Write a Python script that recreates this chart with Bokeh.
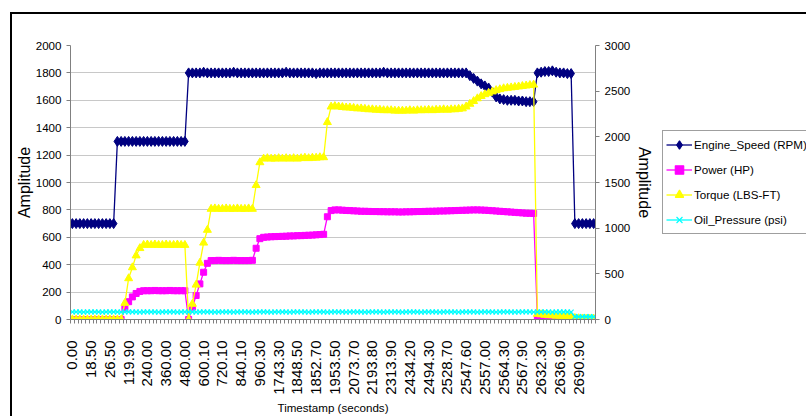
import math
from bokeh.plotting import figure
from bokeh.layouts import row
from bokeh.models import Range1d, LinearAxis, FixedTicker, SingleIntervalTicker, Legend
from bokeh.embed import file_html
from bokeh.resources import INLINE

# ---------------- data ----------------
tick_labels = ["0.00", "18.50", "26.50", "119.90", "240.00", "360.00", "480.00",
               "600.10", "720.10", "840.10", "960.30", "1743.30", "1848.50", "1852.70",
               "1953.50", "2073.70", "2193.80", "2313.90", "2434.20", "2494.30",
               "2528.70", "2547.60", "2557.00", "2564.30", "2567.90", "2632.30",
               "2636.90", "2690.90"]
label_every = 5

engine_speed = [
    700, 700, 700, 700, 700, 700, 700, 700, 700, 700, 700, 700,
    1300, 1300, 1300, 1300, 1300, 1300, 1300, 1300, 1300, 1300,
    1300, 1300, 1300, 1300, 1300, 1300, 1300, 1300, 1300,
    1800, 1800, 1800, 1800, 1805, 1800, 1800, 1800, 1800, 1800,
    1800, 1800, 1805, 1800, 1800, 1800, 1800, 1800, 1800, 1800,
    1800, 1800, 1800, 1800, 1800, 1800, 1805, 1800, 1800, 1800,
    1800, 1800, 1800, 1800, 1795, 1800, 1800, 1800, 1800, 1800,
    1800, 1800, 1800, 1800, 1800, 1800, 1800, 1800, 1800, 1800,
    1800, 1800, 1805, 1800, 1800, 1800, 1800, 1800, 1800, 1800,
    1800, 1800, 1800, 1800, 1800, 1800, 1800, 1800, 1800, 1800,
    1800, 1800, 1800, 1800, 1800,
    1780, 1760, 1740, 1720, 1705, 1690, 1660, 1625, 1610, 1605,
    1600, 1600, 1600, 1595, 1595, 1590, 1590, 1590,
    1800, 1805, 1810, 1810, 1815, 1805, 1800, 1800, 1795, 1795,
    700, 700, 700, 700, 700, 700,
]

power = [
    0, 0, 0, 0, 0, 0, 0, 0, 0, 0, 0, 0, 0, 0,
    80, 130, 165, 190, 205,
    210, 210, 210, 212, 210, 210, 210, 212, 210, 210, 210, 210,
    0,
    90, 175, 260, 345, 410,
    430, 430, 432, 430, 430, 430, 432, 430, 430, 430, 430, 432,
    520, 590,
    600, 602, 604, 605, 606, 607, 608, 610, 610, 612, 612, 614, 615, 616, 618, 620, 622,
    750,
    795, 800, 800, 798, 796, 795, 793, 792, 790, 790,
    789, 788, 788, 787, 787, 786, 786, 786, 785, 785,
    786, 786, 787, 788, 788, 789, 790, 790, 791, 792,
    792, 793, 794, 795, 796, 797, 798, 799, 800, 800,
    799, 798, 796, 794, 792, 790, 788, 786, 784, 782,
    780, 778, 776, 775, 774,
    10, 8, 8, 6, 6, 5, 5, 4, 4, 3, 2, 2, 1, 0, 0, 0,
]

torque = [  # plotted against the secondary (right) axis
    0, 0, 0, 0, 0, 0, 0, 0, 0, 0, 0, 0, 0, 0,
    180, 450, 570, 700, 780,
    815, 820, 815, 820, 815, 815, 820, 815, 815, 820, 815, 815,
    0,
    170, 380, 620, 840, 980,
    1210, 1215, 1210, 1210, 1215, 1210, 1210, 1215, 1210, 1210, 1215, 1210,
    1470, 1720,
    1760, 1765, 1760, 1760, 1765, 1760, 1765, 1760, 1765, 1760, 1765, 1770, 1765, 1770, 1770, 1775, 1775,
    2160,
    2330, 2335, 2330, 2325, 2320, 2320, 2315, 2310, 2310, 2305,
    2300, 2300, 2295, 2295, 2290, 2290, 2290, 2285, 2285, 2285,
    2285, 2290, 2285, 2290, 2290, 2290, 2295, 2290, 2295, 2295,
    2300, 2295, 2300, 2300, 2305, 2310,
    2330, 2360, 2390, 2420, 2445, 2465, 2480, 2495, 2510, 2520,
    2530, 2535, 2540, 2545, 2550, 2555, 2560, 2565, 2570,
    60, 55, 50, 45, 45, 40, 40, 35, 35, 30,
    15, 12, 10, 8, 8, 8,
]

oil_pressure = [
    55, 56, 55, 54, 55, 56, 55, 55, 54, 55, 56, 55, 55, 54, 55, 56, 55, 55, 54, 55,
    56, 55, 55, 54, 55, 56, 55, 55, 54, 55, 56, 55, 55, 54, 55, 56, 55, 55, 54, 55,
    56, 55, 55, 54, 55, 56, 55, 55, 54, 55, 56, 55, 55, 54, 55, 56, 55, 55, 54, 55,
    56, 55, 55, 54, 55, 56, 55, 55, 54, 55, 56, 55, 55, 54, 55, 56, 55, 55, 54, 55,
    56, 55, 55, 54, 55, 56, 55, 55, 54, 55, 56, 55, 55, 54, 55, 56, 55, 55, 54, 55,
    56, 55, 55, 54, 55, 56, 55, 55, 54, 55, 56, 55, 55, 54, 55, 56, 55, 55, 54, 55,
    56, 55, 55, 54, 55, 56, 55, 55, 54, 55, 56, 55, 55, 54,
    20, 20, 21, 20, 20, 20,
]

series_names = ["Engine_Speed (RPM)", "Power (HP)", "Torque (LBS-FT)", "Oil_Pressure (psi)"]
series_colors = ["#000080", "#FF00FF", "#FFFF00", "#00FFFF"]
series_markers = ["diamond", "square", "triangle", "x"]
marker_sizes = [10, 6, 8, 7]

# ---------------- main chart ----------------
FONT = "Liberation Sans"
n = len(engine_speed)
x = list(range(n))
all_series = [engine_speed, power, torque, oil_pressure]
on_right = [False, False, True, False]

fig = figure(width=650, height=402, output_backend="svg", toolbar_location=None,
             x_range=Range1d(-0.5, n - 0.5), y_range=Range1d(0, 2000),
             min_border_left=57, min_border_right=67, min_border_top=31,
             min_border_bottom=97, background_fill_color="white",
             border_fill_color="white", outline_line_color=None)
fig.extra_y_ranges = {"right": Range1d(0, 3000)}

# x axis (category style: labels every 5th point, tick marks between points)
major = [i * label_every for i in range(len(tick_labels))]
boundaries = [i - 0.5 for i in range(n + 1)]
xax = fig.xaxis[0]
xax.ticker = FixedTicker(ticks=major, minor_ticks=boundaries)
xax.major_label_overrides = {m: lab for m, lab in zip(major, tick_labels)}
xax.major_label_orientation = math.pi / 2
xax.major_tick_line_color = None
xax.major_tick_out = 4
xax.major_tick_in = 0
xax.minor_tick_out = 4
xax.minor_tick_in = 0
xax.minor_tick_line_color = "#808080"
xax.axis_line_color = "#808080"
xax.major_label_standoff = 17
xax.major_label_text_font = FONT
xax.major_label_text_font_size = "15px"
xax.major_label_text_color = "black"
xax.axis_label = "Timestamp (seconds)"
xax.axis_label_text_font = FONT
xax.axis_label_text_font_style = "normal"
xax.axis_label_text_font_size = "11.6px"
xax.axis_label_text_color = "black"
xax.axis_label_standoff = 3

# left y axis
yax = fig.yaxis[0]
yax.ticker = SingleIntervalTicker(interval=200, num_minor_ticks=0)
yax.axis_line_color = "#808080"
yax.major_tick_line_color = "#808080"
yax.major_tick_out = 4
yax.major_tick_in = 0
yax.minor_tick_line_color = None
yax.major_label_standoff = 5
yax.major_label_text_font = FONT
yax.major_label_text_font_size = "11.6px"
yax.major_label_text_color = "black"
yax.axis_label = "Amplitude"
yax.axis_label_text_font = FONT
yax.axis_label_text_font_style = "normal"
yax.axis_label_text_font_size = "16px"
yax.axis_label_text_color = "black"
yax.axis_label_standoff = 0

# right y axis
rax = LinearAxis(y_range_name="right",
                 ticker=SingleIntervalTicker(interval=500, num_minor_ticks=0))
rax.axis_line_color = "#808080"
rax.major_tick_line_color = "#808080"
rax.major_tick_out = 4
rax.major_tick_in = 0
rax.minor_tick_line_color = None
rax.major_label_standoff = 5
rax.major_label_text_font = FONT
rax.major_label_text_font_size = "11.6px"
rax.major_label_text_color = "black"
rax.axis_label = "Amplitude"
rax.axis_label_text_font = FONT
rax.axis_label_text_font_style = "normal"
rax.axis_label_text_font_size = "16px"
rax.axis_label_text_color = "black"
rax.axis_label_standoff = 3
fig.add_layout(rax, "right")

fig.xgrid.grid_line_color = None
fig.ygrid.ticker = yax.ticker
fig.ygrid.grid_line_color = "#c8c8c8"
fig.ygrid.grid_line_width = 1

# series
for ys, col, mk, sz, rgt in zip(all_series, series_colors, series_markers,
                                marker_sizes, on_right):
    rname = "right" if rgt else "default"
    fig.line(x, ys, color=col, line_width=1.3, y_range_name=rname)
    if mk == "x":
        fig.scatter(x, ys, marker=mk, size=sz, line_color=col, line_width=1.2,
                    y_range_name=rname)
    else:
        fig.scatter(x, ys, marker=mk, size=sz, color=col, y_range_name=rname)

# ---------------- legend panel (to the right of the chart) ----------------
# its own copies of the series are outside its (empty) view; they only feed the legend
lfig = figure(width=144, height=402, output_backend="svg", toolbar_location=None,
              x_range=Range1d(2 * n, 2 * n + 1), y_range=Range1d(0, 1),
              x_axis_location=None, y_axis_location=None,
              min_border_left=0, min_border_right=0, min_border_top=31,
              min_border_bottom=97, background_fill_color="white",
              border_fill_color="white", outline_line_color=None)
lfig.xgrid.visible = False
lfig.ygrid.visible = False
items = []
for name, ys, col, mk, sz in zip(series_names, all_series, series_colors,
                                 series_markers, marker_sizes):
    rl = lfig.line(x, ys, color=col, line_width=1.3)
    rs = lfig.scatter(x, ys, marker=mk, size=sz, color=col, line_width=1.2)
    items.append((name, [rl, rs]))

leg = Legend(items=items)
leg.location = "left"
leg.margin = 0
leg.padding = 3
leg.spacing = 4
leg.glyph_width = 26
leg.glyph_height = 21
leg.label_height = 21
leg.label_standoff = 2
leg.label_text_font = FONT
leg.label_text_font_size = "11.6px"
leg.label_text_color = "black"
leg.border_line_color = "#404040"
leg.border_line_width = 1
leg.background_fill_color = "white"
leg.background_fill_alpha = 1.0
lfig.add_layout(leg, "center")

p = row(fig, lfig, spacing=0)
p.styles = {"margin-left": "10px", "margin-top": "12px",
            "border-top": "2px solid black", "border-left": "2px solid black"}

open("out.html", "w").write(file_html(p, INLINE))
